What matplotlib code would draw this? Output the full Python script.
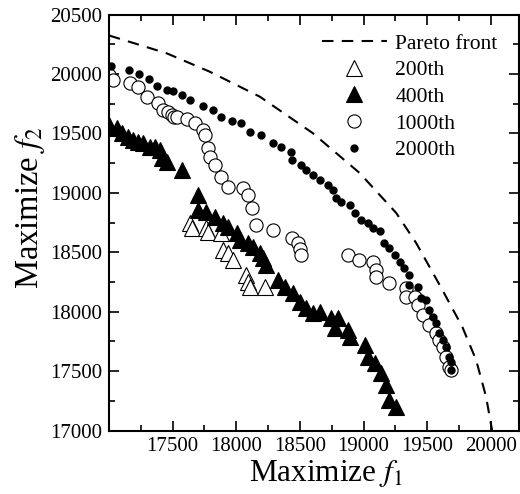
import numpy as np
import matplotlib
matplotlib.use("Agg")
import matplotlib.pyplot as plt
from matplotlib.ticker import MultipleLocator
from matplotlib.legend_handler import HandlerLine2D

plt.rcParams['font.family'] = ['Liberation Serif', 'DejaVu Serif']
plt.rcParams['mathtext.fontset'] = 'stix'

# Pareto front (dashed curve)
pareto_f1 = [17000, 17453, 17792, 18185, 18600, 18969, 19257, 19414, 19620, 19777, 19885, 19963, 20010, 20020]
pareto_f2 = [20325, 20175, 20020, 19810, 19504, 19168, 18831, 18578, 18183, 17871, 17593, 17285, 17004, 16900]

# 200th generation
g200_f1 = [17635, 17649, 17766, 17779, 17884, 17897, 17936, 17975, 18080, 18093, 18106, 18224]
g200_f2 = [18744, 18702, 18702, 18673, 18660, 18519, 18492, 18435, 18309, 18253, 18210, 18210]

# 400th generation
g400_f1 = [17002, 17060, 17100, 17151, 17191, 17230, 17269, 17322, 17361, 17400, 17413, 17453,
           17570, 17701, 17701, 17766, 17832, 17897, 17936, 18002, 18028, 18093, 18132, 18185,
           18211, 18237, 18328, 18381, 18446, 18498, 18551, 18603, 18655, 18747, 18799, 18773,
           18877, 18891, 19008, 19034, 19087, 19139, 19178, 19204, 19257]
g400_f2 = [19572, 19544, 19502, 19473, 19446, 19431, 19418, 19389, 19389, 19361, 19291, 19263,
           19193, 18982, 18856, 18842, 18800, 18744, 18716, 18660, 18603, 18576, 18547, 18492,
           18450, 18393, 18267, 18210, 18155, 18084, 18029, 17987, 18000, 17944, 17944, 17860,
           17846, 17790, 17720, 17621, 17566, 17482, 17383, 17257, 17200]

# 1000th generation
g1000_f1 = [17000, 17034, 17165, 17230, 17296, 17387, 17426, 17465, 17492, 17510, 17531, 17614,
            17675, 17735, 17753, 17779, 17792, 17832, 17884, 17936, 18054, 18093, 18127, 18159,
            18289, 18441, 18485, 18498, 18512, 18877, 18964, 19073, 19100, 19100, 19199, 19335,
            19335, 19401, 19426, 19466, 19518, 19571, 19597, 19623, 19649, 19675, 19688]
g1000_f2 = [19995, 19951, 19923, 19894, 19810, 19754, 19698, 19684, 19656, 19642, 19637, 19620,
            19586, 19530, 19488, 19376, 19305, 19235, 19137, 19052, 19039, 18982, 18870, 18730,
            18688, 18618, 18576, 18525, 18477, 18477, 18435, 18421, 18351, 18295, 18244, 18197,
            18126, 18126, 18056, 17972, 17888, 17818, 17762, 17705, 17621, 17537, 17509]

# 2000th generation
g2000_f1 = [17016, 17159, 17238, 17316, 17374, 17453, 17500, 17570, 17635, 17740, 17818, 17884,
            17963, 18041, 18106, 18198, 18289, 18355, 18433, 18441, 18512, 18551, 18603, 18655,
            18720, 18760, 18786, 18826, 18891, 18930, 18982, 19034, 19073, 19126, 19165, 19204,
            19244, 19283, 19322, 19361, 19361, 19426, 19453, 19492, 19518, 19544, 19571, 19597,
            19623, 19649, 19675, 19688, 19688]
g2000_f2 = [20071, 20035, 20001, 19959, 19900, 19867, 19861, 19824, 19782, 19732, 19698, 19637,
            19608, 19586, 19515, 19487, 19423, 19389, 19347, 19277, 19235, 19193, 19151, 19109,
            19067, 19025, 18955, 18926, 18898, 18828, 18772, 18744, 18702, 18682, 18576, 18534,
            18477, 18421, 18365, 18309, 18225, 18210, 18113, 18099, 18014, 17958, 17902, 17818,
            17762, 17705, 17621, 17579, 17509]


class RightMarkerHandler(HandlerLine2D):
    # put the single legend marker near the right end of the handle
    def get_xdata(self, legend, xdescent, ydescent, width, height, fontsize):
        xdata = np.array([-xdescent, -xdescent + width])
        return xdata, np.array([-xdescent + 0.87 * width])


fig = plt.figure(figsize=(5.2, 4.94), dpi=100)
ax = fig.add_axes([0.2096, 0.1285, 0.788, 0.8418])

ax.plot(pareto_f1, pareto_f2, 'k--', lw=1.5, dashes=(5.5, 4), label='Pareto front')
ax.plot(g200_f1, g200_f2, '^', ms=11, mfc='white', mec='black', mew=0.8, ls='none', label='200th')
ax.plot(g400_f1, g400_f2, '^', ms=11, mfc='black', mec='black', mew=0.8, ls='none', label='400th')
ax.plot(g1000_f1, g1000_f2, 'o', ms=9.5, mfc='white', mec='black', mew=0.8, ls='none', label='1000th')
ax.plot(g2000_f1, g2000_f2, 'o', ms=5, mfc='black', mec='black', ls='none', label='2000th')

ax.set_xlim(17000, 20220)
ax.set_ylim(17000, 20500)
ax.xaxis.set_major_locator(MultipleLocator(500))
ax.xaxis.set_minor_locator(MultipleLocator(250))
ax.yaxis.set_major_locator(MultipleLocator(500))
ax.yaxis.set_minor_locator(MultipleLocator(250))
ax.set_xticks([17500, 18000, 18500, 19000, 19500, 20000])
ax.tick_params(which='both', direction='in', top=True, right=True, width=1.2, labelsize=15)
ax.tick_params(which='major', length=7, pad=5)
ax.tick_params(which='minor', length=4)
for s in ax.spines.values():
    s.set_linewidth(1.5)

ax.set_xlabel('Maximize $f_1$', fontsize=22.5, labelpad=1)
ax.set_ylabel('Maximize $f_2$', fontsize=23.5, labelpad=2)
ax.xaxis.label.set_x(0.53)
ax.yaxis.label.set_y(0.535)

handles, labels = ax.get_legend_handles_labels()
ax.legend(handles, labels, loc='upper right', bbox_to_anchor=(0.985, 0.99), frameon=False,
          fontsize=15.5, handlelength=3.0, handletextpad=0.4, labelspacing=0.3, borderpad=0.2,
          handler_map={h: RightMarkerHandler() for h in handles[1:]})

plt.savefig('out.png', dpi=100)
